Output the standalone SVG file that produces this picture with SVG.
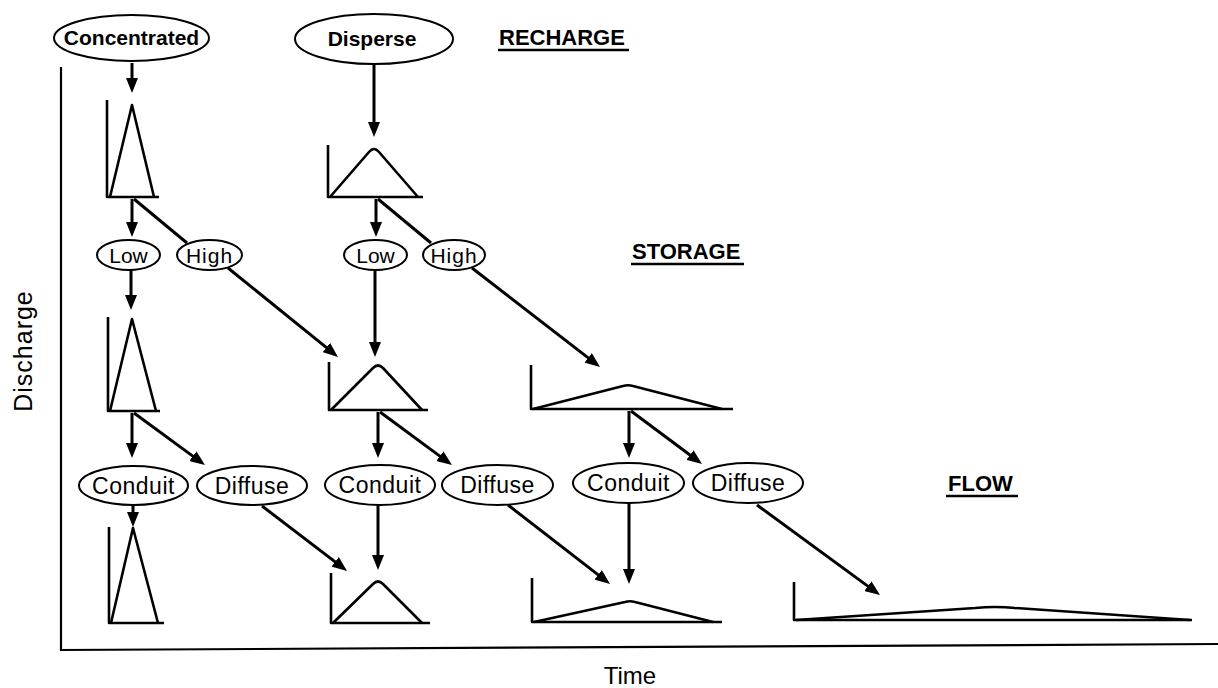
<svg xmlns="http://www.w3.org/2000/svg" width="1218" height="688" viewBox="0 0 1218 688">
<defs>
<marker id="ah" viewBox="0 0 15 12" refX="5" refY="6" markerWidth="15" markerHeight="12" markerUnits="userSpaceOnUse" orient="auto">
<path d="M0,0 L15,6 L0,12 z" fill="#000"/>
</marker>
<style>
.bg{fill:#fff}
.ax{stroke:#000;stroke-width:2.2;fill:none}
.hg{stroke:#000;stroke-width:2.6;fill:none;stroke-linejoin:round}
.el{fill:#fff;stroke:#000;stroke-width:2}
.ar{stroke:#000;stroke-width:3;fill:none;marker-end:url(#ah)}
.ln{stroke:#000;stroke-width:3;fill:none}
.t{font-family:"Liberation Sans",Arial,sans-serif;fill:#000;text-anchor:middle}
.tb{font-family:"Liberation Sans",Arial,sans-serif;fill:#000;text-anchor:middle;font-weight:bold}
.hd{font-family:"Liberation Sans",Arial,sans-serif;fill:#000;font-weight:bold;font-size:22px}
.sm{font-size:21px}
.md{font-size:23px;letter-spacing:0.5px}
.ul{stroke:#000;stroke-width:2.5}
</style>
</defs>
<rect class="bg" x="0" y="0" width="1218" height="688"/>

<g id="axes">
<line class="ax" x1="61" y1="67" x2="61" y2="651"/>
<line class="ax" x1="60" y1="650" x2="1218" y2="644"/>
<text class="t" x="0" y="0" font-size="25" letter-spacing="1" transform="translate(32,351) rotate(-90)">Discharge</text>
<text class="t" x="630" y="684" font-size="24">Time</text>
</g>

<g id="headings">
<text class="hd" x="499" y="45">RECHARGE</text>
<line class="ul" x1="498" y1="50" x2="629" y2="50"/>
<text class="hd" x="632" y="259">STORAGE</text>
<line class="ul" x1="631" y1="264" x2="744" y2="264"/>
<text class="hd" x="948" y="491">FLOW</text>
<line class="ul" x1="946" y1="496" x2="1018" y2="496"/>
</g>

<g id="connectors">
<line class="ar" x1="132" y1="63" x2="132" y2="83"/>
<line class="ar" x1="374" y1="65" x2="374" y2="127"/>
<line class="ar" x1="132" y1="199" x2="132" y2="227"/>
<line class="ln" x1="134" y1="199" x2="187" y2="243"/>
<line class="ar" x1="131" y1="270" x2="131" y2="300"/>
<line class="ar" x1="228" y1="268" x2="330.2" y2="350.7"/>
<line class="ar" x1="375" y1="270" x2="375" y2="347"/>
<line class="ar" x1="376" y1="199" x2="376" y2="227"/>
<line class="ln" x1="378" y1="199" x2="431" y2="243"/>
<line class="ar" x1="472" y1="268" x2="592.1" y2="360.9"/>
<line class="ar" x1="132" y1="413" x2="132" y2="448"/>
<line class="ar" x1="134" y1="413" x2="196.9" y2="459.1"/>
<line class="ar" x1="133" y1="505" x2="133" y2="517"/>
<line class="ar" x1="262" y1="506" x2="339.1" y2="564.9"/>
<line class="ar" x1="378" y1="412" x2="378" y2="448"/>
<line class="ar" x1="380" y1="412" x2="443.9" y2="459.1"/>
<line class="ar" x1="378" y1="505" x2="378" y2="560"/>
<line class="ar" x1="508" y1="505" x2="602.1" y2="577.9"/>
<line class="ar" x1="629" y1="411" x2="629" y2="448"/>
<line class="ar" x1="631" y1="411" x2="694" y2="458"/>
<line class="ar" x1="629" y1="503" x2="629" y2="574"/>
<line class="ar" x1="757" y1="505" x2="871.9" y2="589.1"/>
</g>

<g id="concentrated">
<ellipse class="el" cx="131.5" cy="38" rx="77.5" ry="23"/>
<text class="tb" x="131.5" y="45" font-size="21">Concentrated</text>
</g>
<g id="disperse">
<ellipse class="el" cx="374" cy="39" rx="79" ry="25"/>
<text class="tb" x="372" y="46" font-size="21">Disperse</text>
</g>

<g id="hydro-recharge-concentrated">
<path class="hg" d="M107,100 L107,197 L159,197"/>
<path class="hg" d="M110,197 L132,105 L154,197"/>
</g>
<g id="hydro-recharge-disperse">
<path class="hg" d="M328,145 L328,197 L423,197"/>
<path class="hg" d="M330,197 L369,152 Q374,146 379,152 L418,197"/>
</g>

<g id="low1">
<ellipse class="el" cx="128.5" cy="255" rx="31.5" ry="15"/>
<text class="t sm" x="128.5" y="262.5">Low</text>
</g>
<g id="high1">
<ellipse class="el" cx="209.5" cy="255" rx="32.5" ry="15"/>
<text class="t sm" x="209.5" y="262.5" letter-spacing="1">High</text>
</g>
<g id="low2">
<ellipse class="el" cx="375.5" cy="255" rx="31.5" ry="15"/>
<text class="t sm" x="375.5" y="262.5">Low</text>
</g>
<g id="high2">
<ellipse class="el" cx="454" cy="255" rx="31" ry="15"/>
<text class="t sm" x="454" y="262.5" letter-spacing="1">High</text>
</g>

<g id="hydro-storage-1">
<path class="hg" d="M108,317 L108,411 L160,411"/>
<path class="hg" d="M110,411 L132,319 L156,411"/>
</g>
<g id="hydro-storage-2">
<path class="hg" d="M329,362 L329,410 L428,410"/>
<path class="hg" d="M331,410 L373,368 Q378,363 383,368 L422,410"/>
</g>
<g id="hydro-storage-3">
<path class="hg" d="M531,365 L531,409 L733,409"/>
<path class="hg" d="M533,409 L623,386 Q628,384.5 633,386 L722,409"/>
</g>

<g id="conduit1">
<ellipse class="el" cx="133.5" cy="485.5" rx="54.5" ry="19.5"/>
<text class="t md" x="133.5" y="493.5">Conduit</text>
</g>
<g id="diffuse1">
<ellipse class="el" cx="252" cy="485.5" rx="55" ry="19.5"/>
<text class="t md" x="252" y="493.5">Diffuse</text>
</g>
<g id="conduit2">
<ellipse class="el" cx="380" cy="485" rx="55" ry="20"/>
<text class="t md" x="380" y="493">Conduit</text>
</g>
<g id="diffuse2">
<ellipse class="el" cx="497.5" cy="485" rx="55.5" ry="20"/>
<text class="t md" x="497.5" y="493">Diffuse</text>
</g>
<g id="conduit3">
<ellipse class="el" cx="628.5" cy="483" rx="55.5" ry="20"/>
<text class="t md" x="628.5" y="491">Conduit</text>
</g>
<g id="diffuse3">
<ellipse class="el" cx="748" cy="483" rx="55" ry="20"/>
<text class="t md" x="748" y="491">Diffuse</text>
</g>

<g id="hydro-flow-1">
<path class="hg" d="M109,527 L109,623 L164,623"/>
<path class="hg" d="M111,623 L133,528 L158,623"/>
</g>
<g id="hydro-flow-2">
<path class="hg" d="M331,573 L331,623 L430,623"/>
<path class="hg" d="M333,623 L373,584 Q378,579 383,584 L422,623"/>
</g>
<g id="hydro-flow-3">
<path class="hg" d="M532,578 L532,622 L722,622"/>
<path class="hg" d="M534,622 L625,602 Q630,600.5 635,602 L713,622"/>
</g>
<g id="hydro-flow-4">
<path class="hg" d="M794,582 L794,620 L1192,620"/>
<path class="hg" d="M796,620 L975,608 Q995,606 1015,608 L1190,620"/>
</g>
</svg>
